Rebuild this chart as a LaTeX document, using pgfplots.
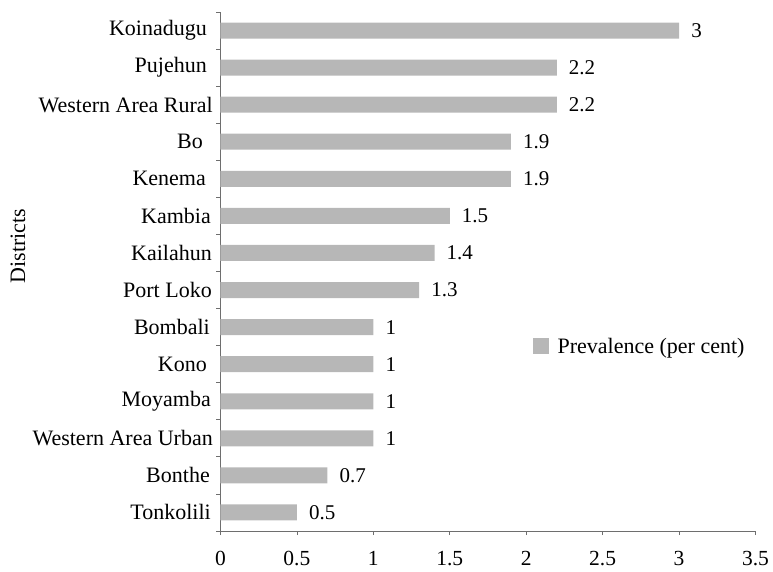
\documentclass[border=0pt]{standalone}
\usepackage{pgfplots}
\pgfplotsset{compat=1.18}
\usepackage{pgfplotstable}
\usepackage{fontspec}
\setmainfont{Liberation Serif}
\definecolor{barcol}{RGB}{183,183,183}
\definecolor{axcol}{RGB}{110,110,110}
\pgfplotstableread{
x y
3 13
2.2 12
2.2 11
1.9 10
1.9 9
1.5 8
1.4 7
1.3 6
1 5
1 4
1 3
1 2
0.7 1
0.5 0
}\datatable
\newcommand{\cl}[2]{#1\hspace*{#2pt}}
\begin{document}
\begin{tikzpicture}
\path[use as bounding box] (-220.5pt,-40pt) rectangle (552.5pt,531pt);
\begin{axis}[
  anchor=south west, at={(0pt,0pt)},
  scale only axis,
  width=535pt, height=519pt,
  xbar, bar width=16pt,
  xmin=0, xmax=3.5,
  ymin=-0.5, ymax=13.5,
  axis x line*=bottom, axis y line*=left,
  axis line style={axcol, line width=0.8pt},
  xtick={0,0.5,...,3.5},
  xticklabels={0,0.5,1,1.5,2,2.5,3,3.5},
  ytick={0,...,13},
  yticklabels={\cl{Tonkolili}{2},\cl{Bonthe}{3},\cl{Western Area Urban}{0},\cl{Moyamba}{2},\cl{Kono}{6},\cl{Bombali}{3},\cl{Port Loko}{1},\cl{Kailahun}{1},\cl{Kambia}{2},\cl{Kenema}{7},\cl{Bo}{10},\cl{Western Area Rural}{0},\cl{Pujehun}{6},\cl{Koinadugu}{6}},
  minor ytick={-0.5,0.5,...,13.5},
  tick align=outside,
  major tick length=4pt, minor tick length=4pt,
  major y tick style={draw=none},
  minor y tick style={axcol, line width=0.8pt},
  major x tick style={axcol, line width=0.8pt},
  /pgf/number format/assume math mode=true,
  xticklabel style={font=\fontsize{21.5}{25}\selectfont, yshift=-13pt},
  yticklabel style={font=\fontsize{22}{26}\selectfont, anchor=east, inner sep=0pt, xshift=-3.5pt},
  ylabel={Districts},
  ylabel style={font=\fontsize{22}{26}\selectfont, at={(axis description cs:-0.3654,0.549)}, anchor=base, rotate=0},
  nodes near coords,
  every node near coord/.append style={font=\fontsize{21}{25}\selectfont, anchor=west, inner sep=0pt, xshift=12pt, black},
  legend style={draw=none, fill=none, at={(axis description cs:0.584,0.356)}, anchor=west, font=\fontsize{22}{26}\selectfont, inner sep=0pt, nodes={inner sep=8.5pt}},
  legend image code/.code={\fill[barcol] (0pt,-8pt) rectangle (16pt,8pt);},
  clip=false,
]
\addplot[fill=barcol, draw=none] table[x=x, y=y] {\datatable};
\addlegendentry{Prevalence (per cent)}
\end{axis}
\end{tikzpicture}
\end{document}
